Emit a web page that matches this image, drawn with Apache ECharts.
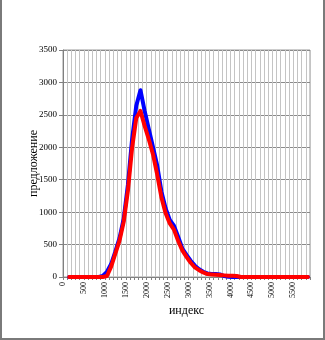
<!DOCTYPE html>
<html>
<head>
<meta charset="utf-8">
<script src="https://cdn.jsdelivr.net/npm/echarts@6/dist/echarts.min.js"></script>
<style>
  html, body { margin: 0; padding: 0; background: #fff; }
  #wrap { position: relative; width: 325px; height: 340px; }
  #chart { position: absolute; left: 0; top: 0; width: 325px; height: 340px; }
  #frame { position: absolute; left: 0; top: 0; width: 325px; height: 340px; box-sizing: border-box;
           border-left: 2px solid #7a7a7a; border-right: 2px solid #7a7a7a; border-bottom: 2px solid #7a7a7a;
           pointer-events: none; }
</style>
</head>
<body>
<div id="wrap"><div id="chart"></div><div id="frame"></div></div>
<script>
// index positions (centre of each 100-wide class)
const indexValues = [
  150, 250, 350, 450, 550, 650, 750, 850, 950,
  1050, 1150, 1250, 1350, 1450, 1550, 1650, 1750, 1850, 1950,
  2050, 2150, 2250, 2350, 2450, 2550, 2650, 2750, 2850, 2950,
  3050, 3150, 3250, 3350, 3450, 3550, 3650, 3750, 3850, 3950,
  4050, 4150, 4250, 4350, 4450, 4550, 4650, 4750, 4850, 4950,
  5050, 5150, 5250, 5350, 5450, 5550, 5650, 5750, 5850
];

// supply, first series (blue)
const supplyBlue = [
  0, 0, 0, 0, 0, 0, 0, 0, 15,
  80, 200, 390, 600, 900, 1420, 2120, 2640, 2880, 2560,
  2280, 2000, 1720, 1320, 1060, 880, 790, 620, 440, 340,
  250, 175, 120, 80, 55, 45, 45, 40, 15, 5,
  0, 0, 0, 0, 0, 0, 0, 0, 0, 0,
  0, 0, 0, 0, 0, 0, 0, 0, 0
];

// supply, second series (red)
const supplyRed = [
  0, 0, 0, 0, 0, 0, 0, 0, 0,
  15, 160, 360, 560, 850, 1330, 1990, 2450, 2560, 2330,
  2120, 1890, 1580, 1230, 985, 825, 730, 560, 410, 310,
  220, 150, 105, 70, 45, 40, 35, 30, 25, 20,
  20, 15, 0, 0, 0, 0, 0, 0, 0, 0,
  0, 0, 0, 0, 0, 0, 0, 0, 0
];

const xTickLabels = [0, 500, 1000, 1500, 2000, 2500, 3000, 3500, 4000, 4500, 5000, 5500];

const serif = '"Liberation Serif", "DejaVu Serif", serif';

const chart = echarts.init(document.getElementById('chart'), null, { renderer: 'canvas' });

chart.setOption({
  backgroundColor: '#ffffff',
  animation: false,
  grid: {
    left: 63, right: 15, top: 50, bottom: 63,
    show: true, borderColor: '#9a9a9a', borderWidth: 1, backgroundColor: 'transparent'
  },
  xAxis: {
    type: 'value',
    min: 0, max: 5900, interval: 100,
    name: 'индекс',
    nameLocation: 'middle',
    nameGap: 28,
    nameMoveOverlap: false,
    nameTextStyle: { fontFamily: serif, fontSize: 12, color: '#000' },
    axisLine: { show: true, lineStyle: { color: '#808080', width: 1 } },
    axisTick: { show: true, inside: false, length: 3, lineStyle: { color: '#808080' } },
    axisLabel: {
      rotate: 90,
      margin: 5,
      fontFamily: serif, fontSize: 8, color: '#000',
      formatter: v => (xTickLabels.indexOf(v) >= 0 ? String(v) : '')
    },
    splitLine: { show: true, lineStyle: { color: '#c4c4c4', width: 1 } }
  },
  yAxis: {
    type: 'value',
    min: 0, max: 3500, interval: 500,
    name: 'предложение',
    nameLocation: 'middle',
    nameGap: 23,
    nameMoveOverlap: false,
    nameTextStyle: { fontFamily: serif, fontSize: 12, color: '#000' },
    axisLine: { show: true, lineStyle: { color: '#808080', width: 1 } },
    axisTick: { show: true, inside: false, length: 4, lineStyle: { color: '#808080' } },
    axisLabel: { margin: 6, fontFamily: serif, fontSize: 9, color: '#000', formatter: v => String(v) },
    splitLine: { show: true, lineStyle: { color: '#8a8a8a', width: 1 } }
  },
  series: [
    {
      type: 'line',
      data: indexValues.map((x, i) => [x, supplyBlue[i]]),
      symbol: 'none',
      lineStyle: { color: '#0000ff', width: 4, cap: 'round', join: 'round' },
      z: 2
    },
    {
      type: 'line',
      data: indexValues.map((x, i) => [x, supplyRed[i]]),
      symbol: 'none',
      lineStyle: { color: '#ff0000', width: 4, cap: 'round', join: 'round' },
      z: 3
    }
  ]
});
</script>
</body>
</html>
